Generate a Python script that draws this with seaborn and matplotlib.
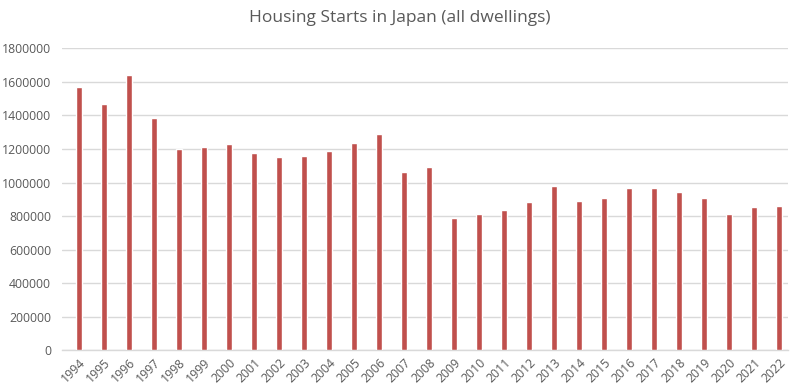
import matplotlib
matplotlib.use("Agg")
import matplotlib.pyplot as plt
import seaborn as sns
import pandas as pd

# --- DATA ---
years = [str(y) for y in range(1994, 2023)]
starts = [1570252, 1470330, 1643266, 1387014, 1198295, 1214601, 1229843,
          1173858, 1151016, 1160083, 1189049, 1236175, 1290391, 1060741,
          1093519, 788410, 813126, 834117, 882797, 980025, 892261, 909299,
          967237, 964641, 942370, 905123, 815340, 856484, 859529]
y_ticks = list(range(0, 1800001, 200000))

BAR_COLOR = '#C0504D'
TEXT_COLOR = '#595959'
GRID_COLOR = '#D9D9D9'

df = pd.DataFrame({'Year': years, 'Starts': starts})

sns.set_style('white')
plt.rcParams['font.family'] = ['Open Sans', 'DejaVu Sans']

fig = plt.figure(figsize=(7.99, 3.91), dpi=100)
ax = fig.add_axes([62 / 799, 1 - 350.3 / 391, (788 - 62) / 799, (350.3 - 48.3) / 391])

sns.barplot(data=df, x='Year', y='Starts', color=BAR_COLOR, width=0.27,
            saturation=1, ax=ax, zorder=3)

ax.set_ylim(0, 1800000)
ax.set_xlim(-0.68, len(years) - 1 + 0.36)
ax.set_yticks(y_ticks)
ax.set_yticklabels([str(v) for v in y_ticks])
ax.yaxis.grid(True, color=GRID_COLOR, linewidth=1, zorder=0)
ax.set_axisbelow(True)

for side in ['top', 'right', 'left']:
    ax.spines[side].set_visible(False)
ax.spines['bottom'].set_color(GRID_COLOR)
ax.spines['bottom'].set_linewidth(1)

ax.tick_params(axis='both', length=0, colors=TEXT_COLOR, labelsize=8.8)
ax.tick_params(axis='y', pad=8)
ax.tick_params(axis='x', pad=4)
plt.setp(ax.get_xticklabels(), rotation=45, ha='right', rotation_mode='anchor')
ax.set_xlabel('')
ax.set_ylabel('')

fig.text(0.5, 1 - 18 / 391, 'Housing Starts in Japan (all dwellings)',
         ha='center', va='center', fontsize=12.5, color=TEXT_COLOR)

fig.savefig('out.png', dpi=100)
